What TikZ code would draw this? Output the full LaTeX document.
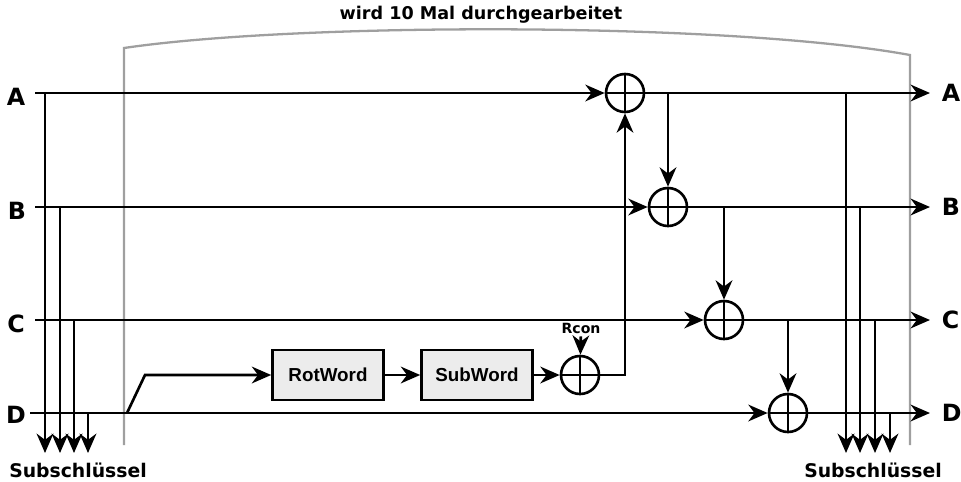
\documentclass[tikz,border=0pt]{standalone}
\usepackage{fontspec}
\setmainfont{DejaVu Sans}
\newfontfamily\boxfont{Liberation Sans}
\usetikzlibrary{arrows.meta,positioning,calc}

\begin{document}
\begin{tikzpicture}[x=0.02cm,y=-0.02cm,line width=1.5pt,
    wire/.style={-{Stealth[length=11pt,width=9.5pt,inset=3.5pt]}},
    lbl/.style={font=\bfseries\fontsize{13.5}{15}\selectfont,inner sep=0pt},
    xorgate/.style={circle,draw,minimum size=0.76cm,inner sep=0pt,
      path picture={\draw (path picture bounding box.north) -- (path picture bounding box.south)
        (path picture bounding box.west) -- (path picture bounding box.east);}},
    wordbox/.style={draw,fill=gray!15,minimum width=2.22cm,minimum height=1cm,
      font=\boxfont\bfseries\fontsize{10.7}{12}\selectfont}]
    \useasboundingbox (0,0) rectangle (961,481);

    % Round bracket
    \draw[gray!75,line width=1.3pt] (124,445) -- (124,48)
      .. controls (300,22) and (730,22) .. (910,55) -- (910,445);
    \node[font=\bfseries\fontsize{10}{12}\selectfont] (rounds) at (481,15) {wird 10 Mal durchgearbeitet};

    % Input words
    \node[lbl] (Ain) at (16,97) {A};
    \node[lbl] (Bin) at (17,211) {B};
    \node[lbl] (Cin) at (16,324) {C};
    \node[lbl] (Din) at (16,415) {D};
    \coordinate (a0) at (35,93);
    \coordinate (b0) at (35,207);
    \coordinate (c0) at (35,320);
    \coordinate (d0) at (30,413);

    % XOR gates
    \node[xorgate] (xa) at (625,93) {};
    \node[xorgate] (xb) at (668,207) {};
    \node[xorgate] (xc) at (724,320) {};
    \node[xorgate] (xd) at (788,413) {};
    \node[xorgate] (xr) at (580,375) {};

    % Output words
    \node[lbl,anchor=west,inner xsep=6pt] (Aout) at (930,93) {A};
    \node[lbl,anchor=west,inner xsep=6pt] (Bout) at (930,207) {B};
    \node[lbl,anchor=west,inner xsep=6pt] (Cout) at (930,320) {C};
    \node[lbl,anchor=west,inner xsep=6pt] (Dout) at (930,413) {D};

    % g-function
    \node[wordbox] (rot) at (328,375) {RotWord};
    \node[wordbox] (sub) at (477,375) {SubWord};
    \node[font=\bfseries\fontsize{8}{9}\selectfont,inner sep=1pt] (rcon) at (581,328) {Rcon};
    \coordinate (d1) at (127,413);
    \coordinate (kink) at (145,375);

    % Main lines
    \draw[wire] (a0) -- (xa);
    \draw[wire] (b0) -- (xb);
    \draw[wire] (c0) -- (xc);
    \draw[wire] (d0) -- (xd);
    \draw[wire] (xa) -- (Aout.west);
    \draw[wire] (xb) -- (Bout.west);
    \draw[wire] (xc) -- (Cout.west);
    \draw[wire] (xd) -- (Dout.west);

    % Chain between the gates
    \draw[wire] (xa -| xb) -- (xb);
    \draw[wire] (xb -| xc) -- (xc);
    \draw[wire] (xc -| xd) -- (xd);

    % g-function wiring
    \draw[wire] (d1) -- (kink) -- (rot);
    \draw[wire] (rot) -- (sub);
    \draw[wire] (sub) -- (xr);
    \draw[wire] (rcon) -- (xr);
    \draw[wire] (xr) -- (xr -| xa) -- (xa);

    % Subkeys
    \foreach \x/\w in {45/a0,60/b0,74/c0,88/d0}
      \draw[wire] (\w -| \x,0) -- (\x,453);
    \foreach \x/\w in {846/Aout,860/Bout,875/Cout,890/Dout}
      \draw[wire] (\w.west -| \x,0) -- (\x,453);
    \node[font=\bfseries\fontsize{10.7}{12}\selectfont] (keysin) at (78,470) {Subschlüssel};
    \node[font=\bfseries\fontsize{10.7}{12}\selectfont] (keysout) at (873,470) {Subschlüssel};
  \end{tikzpicture}
\end{document}
